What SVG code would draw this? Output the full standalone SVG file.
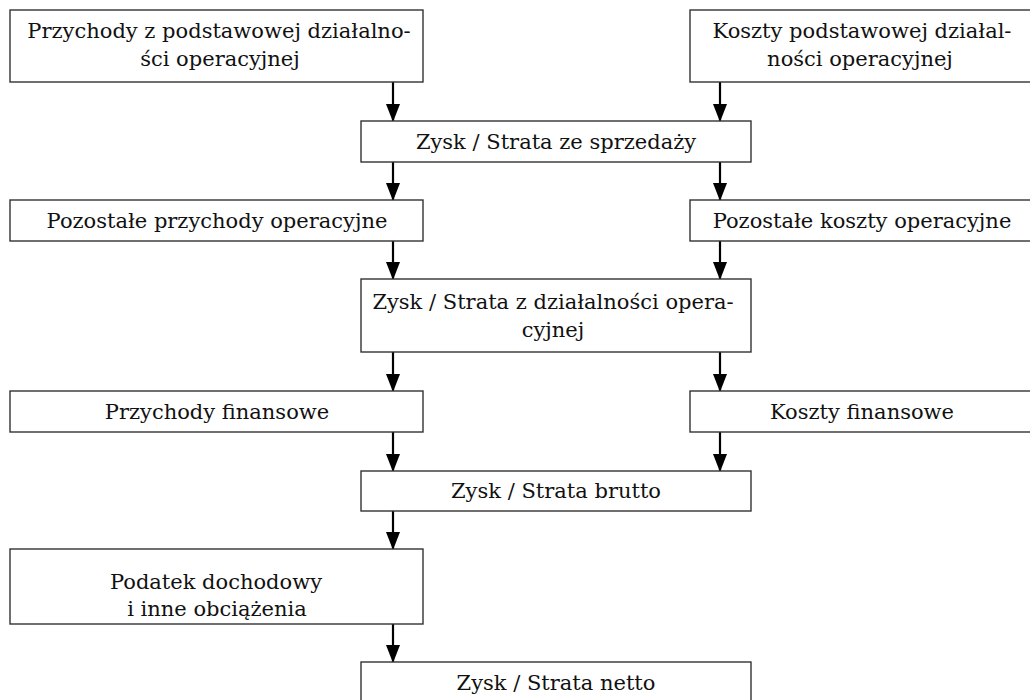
<svg xmlns="http://www.w3.org/2000/svg" width="1030" height="700" viewBox="0 0 1030 700">
<style>
.box{fill:#fff;stroke:#333;stroke-width:1.4}
.t{font-family:"DejaVu Serif","Liberation Serif",serif;font-size:21px;fill:#111;text-anchor:middle}
.c{stroke:#000;stroke-width:2.2;fill:none;marker-end:url(#ah)}
</style>
<defs>
<marker id="ah" markerUnits="userSpaceOnUse" markerWidth="18" markerHeight="14" refX="17" refY="7" orient="auto" viewBox="0 0 18 14">
<path d="M0,0 L18,7 L0,14 Z" fill="#000"/>
</marker>
</defs>
<rect width="1030" height="700" fill="#fff"/>
<g id="connectors">
<line class="c" x1="393" y1="82" x2="393" y2="121"/>
<line class="c" x1="720" y1="82" x2="720" y2="121"/>
<line class="c" x1="393" y1="162" x2="393" y2="200"/>
<line class="c" x1="720" y1="162" x2="720" y2="200"/>
<line class="c" x1="393" y1="241" x2="393" y2="279"/>
<line class="c" x1="720" y1="241" x2="720" y2="279"/>
<line class="c" x1="393" y1="352" x2="393" y2="391"/>
<line class="c" x1="720" y1="352" x2="720" y2="391"/>
<line class="c" x1="393" y1="432" x2="393" y2="471"/>
<line class="c" x1="720" y1="432" x2="720" y2="471"/>
<line class="c" x1="393" y1="511" x2="393" y2="549"/>
<line class="c" x1="393" y1="624" x2="393" y2="662"/>
</g>
<g id="n1"><rect class="box" x="10" y="10" width="413" height="72"/>
<text class="t" x="219" y="38">Przychody z podstawowej działalno-</text>
<text class="t" x="220" y="66">ści operacyjnej</text></g>
<g id="n2"><rect class="box" x="690" y="10" width="360" height="72"/>
<text class="t" x="862" y="38">Koszty podstawowej działal-</text>
<text class="t" x="860" y="66">ności operacyjnej</text></g>
<g id="n3"><rect class="box" x="361" y="121" width="390" height="41"/>
<text class="t" x="556" y="149">Zysk / Strata ze sprzedaży</text></g>
<g id="n4"><rect class="box" x="10" y="200" width="413" height="41"/>
<text class="t" x="217" y="228">Pozostałe przychody operacyjne</text></g>
<g id="n5"><rect class="box" x="690" y="200" width="360" height="41"/>
<text class="t" x="862" y="228">Pozostałe koszty operacyjne</text></g>
<g id="n6"><rect class="box" x="361" y="279" width="390" height="73"/>
<text class="t" x="553" y="309">Zysk / Strata z działalności opera-</text>
<text class="t" x="553" y="337">cyjnej</text></g>
<g id="n7"><rect class="box" x="10" y="391" width="413" height="41"/>
<text class="t" x="217" y="419">Przychody finansowe</text></g>
<g id="n8"><rect class="box" x="690" y="391" width="360" height="41"/>
<text class="t" x="862" y="419">Koszty finansowe</text></g>
<g id="n9"><rect class="box" x="361" y="471" width="390" height="40"/>
<text class="t" x="556" y="498">Zysk / Strata brutto</text></g>
<g id="n10"><rect class="box" x="10" y="549" width="413" height="75"/>
<text class="t" x="216" y="589">Podatek dochodowy</text>
<text class="t" x="217" y="616">i inne obciążenia</text></g>
<g id="n11"><rect class="box" x="361" y="662" width="390" height="50"/>
<text class="t" x="556" y="690">Zysk / Strata netto</text></g>
</svg>
